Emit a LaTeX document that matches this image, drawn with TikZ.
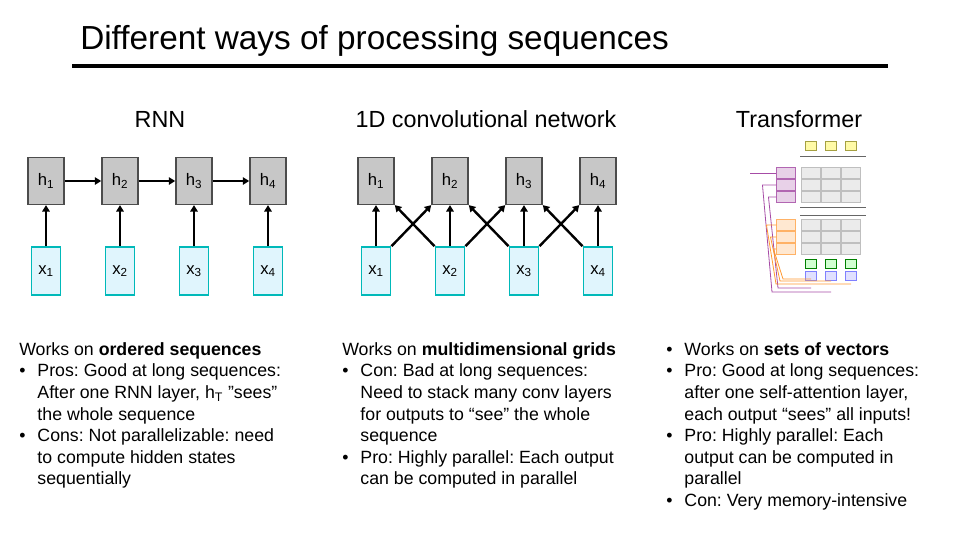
\documentclass[tikz,border=0pt]{standalone}
\usepackage{fontspec}
\setmainfont{Liberation Sans}
\usetikzlibrary{positioning}
\usetikzlibrary{arrows.meta}
\frenchspacing

\tikzset{
  hid/.style={draw=black!70, fill=black!22, line width=1.2pt, minimum width=27pt, minimum height=35pt, font=\fontsize{12.5}{12.5}\selectfont},
  inp/.style={draw=teal!55!cyan, fill=cyan!12, line width=1.2pt, minimum width=22pt, minimum height=36pt, font=\fontsize{12.5}{12.5}\selectfont},
  edge/.style={-{Triangle[scale=0.6]}, line width=1.8pt},
  ctitle/.style={font=\fontsize{17.5}{17.5}\selectfont},
  body/.style={anchor=north west, inner sep=0pt, font=\fontsize{13.3}{16.2}\selectfont},
  tb/.style={draw=black!25, fill=black!8, line width=0.3pt, minimum width=6pt, minimum height=5pt, inner sep=0pt},
}

\begin{document}
\begin{tikzpicture}[x=0.75pt, y=-0.75pt]

  \useasboundingbox (0,0) rectangle (960,540);

  % title
  \node[anchor=west, inner sep=0pt, font=\fontsize{25}{25}\selectfont] (title) at (80,41) {Different ways of processing sequences};
  \draw[line width=3pt] (72,66) -- (888,66);

  \node[ctitle] (trnn) at (160,119) {RNN};
  \node[ctitle] (tcnn) at (486,119) {1D convolutional network};
  \node[ctitle] (ttrf) at (799,119) {Transformer};

  % RNN
  \foreach \i/\x in {1/46, 2/120, 3/194, 4/268} {
    \node[hid] (rh\i) at (\x,181) {h\textsubscript{\i}};
    \node[inp] (rx\i) at (\x,271) {x\textsubscript{\i}};
    \draw[edge] (rx\i) -- (rh\i);
  }
  \foreach \i/\j in {1/2, 2/3, 3/4}
    \draw[edge] (rh\i) -- (rh\j);

  % 1D conv
  \foreach \i/\x in {1/376, 2/450, 3/524, 4/598} {
    \node[hid] (ch\i) at (\x,181) {h\textsubscript{\i}};
    \node[inp] (cx\i) at (\x,271) {x\textsubscript{\i}};
    \draw[edge] (cx\i) -- (ch\i);
  }
  \foreach \i/\j in {1/2, 2/3, 3/4} {
    \draw[edge] (cx\i.north east) -- (ch\j.south west);
    \draw[edge] (cx\j.north west) -- (ch\i.south east);
  }

  % transformer thumbnail
  \foreach \c/\x in {1/811, 2/831, 3/851}
    \node[tb, fill=yellow!35, draw=yellow!60!black, minimum width=8pt, minimum height=7pt] (y\c) at (\x,146) {};
  \draw[black!60, line width=0.4pt] (800,156) -- (866,156);
  \foreach \c/\x in {1/811, 2/831, 3/851} {
    \foreach \r/\y in {1/173, 2/185, 3/197}
      \node[tb, minimum width=14pt, minimum height=8pt] (a\c\r) at (\x,\y) {};
    \foreach \r/\y in {1/225, 2/237, 3/249}
      \node[tb, minimum width=14pt, minimum height=8pt] (e\c\r) at (\x,\y) {};
    \node[tb, fill=green!18, draw=green!50!black, minimum width=8pt, minimum height=7pt] (q\c) at (\x,264) {};
    \node[tb, fill=blue!12, draw=blue!50, minimum width=8pt, minimum height=7pt] (k\c) at (\x,276) {};
  }
  \draw[black!60, line width=0.4pt] (800,207) -- (866,207);
  \draw[black!60, line width=0.4pt] (800,215) -- (866,215);
  \foreach \r/\y in {1/173, 2/185, 3/197}
    \node[tb, fill=violet!18, draw=violet!60, minimum width=14pt, minimum height=8pt] (v\r) at (786,\y) {};
  \foreach \r/\y in {1/225, 2/237, 3/249}
    \node[tb, fill=orange!18, draw=orange!60, minimum width=14pt, minimum height=8pt] (kk\r) at (786,\y) {};
  \draw[violet!70, line width=0.6pt] (v1.west) -- ++(-26,0);
  \draw[violet!70, line width=0.6pt] (v2.west) -- ++(-14,0) -- (772,292) -- (k2.south |- 0,292);
  \draw[violet!70, line width=0.6pt] (v3.west) -- ++(-8,0) -- (778,288) -- (k1.south |- 0,288);
  \draw[orange!80, line width=0.6pt] (kk1.west) -- ++(-10,0) -- (776,284) -- (k3.south |- 0,284);
  \draw[orange!80, line width=0.6pt] (kk2.west) -- ++(-6,0) -- (780,281) -- (k2.south |- 0,281);
  \draw[orange!80, line width=0.6pt] (kk3.west) -- ++(-3,0) -- (783,279) -- (k1.south |- 0,279);

  % texts
  \node[body] (brnn) at (19,340) {%
    \begin{tabular}{@{}l@{\hspace{9pt}}l@{}}
      \multicolumn{2}{@{}l}{Works on \textbf{ordered sequences}}\\
      \textbullet & Pros: Good at long sequences:\\
      & After one RNN layer, h\textsubscript{T} ”sees”\\
      & the whole sequence\\
      \textbullet & Cons: Not parallelizable: need\\
      & to compute hidden states\\
      & sequentially
    \end{tabular}};
  \node[body] (bcnn) at (342,340) {%
    \begin{tabular}{@{}l@{\hspace{9pt}}l@{}}
      \multicolumn{2}{@{}l}{Works on \textbf{multidimensional grids}}\\
      \textbullet & Con: Bad at long sequences:\\
      & Need to stack many conv layers\\
      & for outputs to “see” the whole\\
      & sequence\\
      \textbullet & Pro: Highly parallel: Each output\\
      & can be computed in parallel
    \end{tabular}};
  \node[body] (btrf) at (666,340) {%
    \begin{tabular}{@{}l@{\hspace{9pt}}l@{}}
      \textbullet & Works on \textbf{sets of vectors}\\
      \textbullet & Pro: Good at long sequences:\\
      & after one self-attention layer,\\
      & each output “sees” all inputs!\\
      \textbullet & Pro: Highly parallel: Each\\
      & output can be computed in\\
      & parallel\\
      \textbullet & Con: Very memory-intensive
    \end{tabular}};

\end{tikzpicture}
\end{document}
